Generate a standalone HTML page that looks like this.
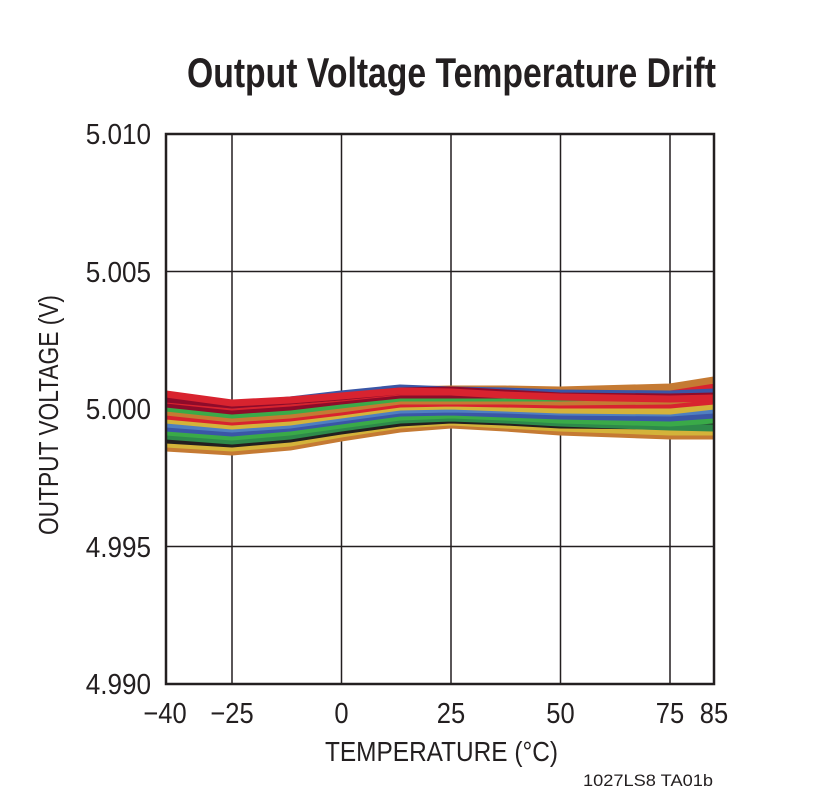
<!DOCTYPE html>
<html><head><style>html,body{margin:0;padding:0;background:#fff}svg{display:block}</style></head>
<body>
<svg width="825" height="797" viewBox="0 0 825 797" xmlns="http://www.w3.org/2000/svg" font-family="'Liberation Sans Narrow','Liberation Sans',sans-serif" fill="#231f20">
<text x="187" y="87" font-size="42" font-weight="bold" textLength="529" lengthAdjust="spacingAndGlyphs">Output Voltage Temperature Drift</text>
<g stroke="#231f20" stroke-width="1.5">
<line x1="232" y1="134" x2="232" y2="684"/><line x1="341.5" y1="134" x2="341.5" y2="684"/><line x1="451" y1="134" x2="451" y2="684"/><line x1="560.5" y1="134" x2="560.5" y2="684"/><line x1="670" y1="134" x2="670" y2="684"/>
<line x1="166" y1="271.5" x2="714" y2="271.5"/><line x1="166" y1="409" x2="714" y2="409"/><line x1="166" y1="546.5" x2="714" y2="546.5"/>
</g>
<g fill="none" stroke-width="7" stroke-linejoin="round" stroke-linecap="butt">
<polyline stroke="#c57a33" points="166,448 232,452 290,447 341,438 400,429 451,425 505,428 560,432 670,436 714,436"/>
<polyline stroke="#d4b33a" points="166,444 232,448 290,443 341,434 400,425 451,422 505,425 560,428 670,432 714,432"/>
<polyline stroke="#231f20" points="166,440 232,444 290,439 341,431 400,423 451,420 505,422 560,425 670,426 714,424"/>
<polyline stroke="#2e8a4a" points="166,436 232,441 290,436 341,428 400,420 451,418 505,420 560,423 670,427 714,428"/>
<polyline stroke="#3aaa48" points="166,432 232,437 290,432 341,425 400,417 451,415 505,417 560,420 670,423 714,420"/>
<polyline stroke="#3a56a6" points="166,428 232,433 290,428 341,421 400,413 451,412 505,414 560,416 670,418 714,415"/>
<polyline stroke="#4f7fc0" points="166,424 232,429 290,425 341,418 400,410 451,409 505,410 560,412 670,413 714,410"/>
<polyline stroke="#d4b33a" points="166,420 232,426 290,422 341,415 400,407 451,406 505,408 560,410 670,411 714,406"/>
<polyline stroke="#d8232f" points="166,416 232,422 290,418 341,412 400,404 451,403 505,404 560,405 670,405 714,401"/>
<polyline stroke="#c57a33" points="166,412 232,419 290,415 341,409 400,401 451,401 505,401 560,402 670,401 714,396"/>
<polyline stroke="#3aaa48" points="166,408 232,415 290,411 341,405 400,398 451,398 505,398 560,398 670,396 714,391"/>
<polyline stroke="#8e0b2a" points="166,404 232,411 290,407 341,401 400,395 451,395 505,395 560,396 670,396 714,393"/>
<polyline stroke="#d8232f" points="166,400 232,407 290,403 341,398 400,392 451,392 505,393 560,394 670,392 714,387"/>
<polyline stroke="#c57a33" points="166,396 232,404 290,401 341,397 400,390 451,389 505,389 560,390 670,387 714,380"/>
<polyline stroke="#3a56a6" points="166,398 232,405 290,400 341,394 400,388 451,390 505,391 560,393 670,394 714,392"/>
<polyline stroke="#8e0b2a" points="166,399 232,405 290,401 341,397 400,391 451,390 505,393 560,396 670,397 714,396"/>
<polyline stroke="#d8232f" points="166,394 232,403 290,400 341,396 400,391 451,392 505,395 560,397 670,399 714,398"/>
</g>
<rect x="166" y="134" width="548" height="550" fill="none" stroke="#231f20" stroke-width="2.5"/>
<g font-size="29" text-anchor="end">
<text transform="translate(151,144) scale(0.9,1)">5.010</text>
<text transform="translate(151,282) scale(0.9,1)">5.005</text>
<text transform="translate(151,419) scale(0.9,1)">5.000</text>
<text transform="translate(151,557) scale(0.9,1)">4.995</text>
<text transform="translate(151,694) scale(0.9,1)">4.990</text>
</g>
<g font-size="29" text-anchor="middle">
<text transform="translate(165,723) scale(0.88,1)">−40</text>
<text transform="translate(232,723) scale(0.88,1)">−25</text>
<text transform="translate(341.5,723) scale(0.88,1)">0</text>
<text transform="translate(451,723) scale(0.88,1)">25</text>
<text transform="translate(560.5,723) scale(0.88,1)">50</text>
<text transform="translate(670,723) scale(0.88,1)">75</text>
<text transform="translate(714,723) scale(0.88,1)">85</text>
</g>
<text x="325" y="761" font-size="28" textLength="233" lengthAdjust="spacingAndGlyphs">TEMPERATURE (°C)</text>
<text transform="translate(58,535) rotate(-90)" font-size="28" textLength="240" lengthAdjust="spacingAndGlyphs">OUTPUT VOLTAGE (V)</text>
<text x="583" y="786" font-size="17" textLength="130" lengthAdjust="spacingAndGlyphs">1027LS8 TA01b</text>
</svg>
</body></html>
